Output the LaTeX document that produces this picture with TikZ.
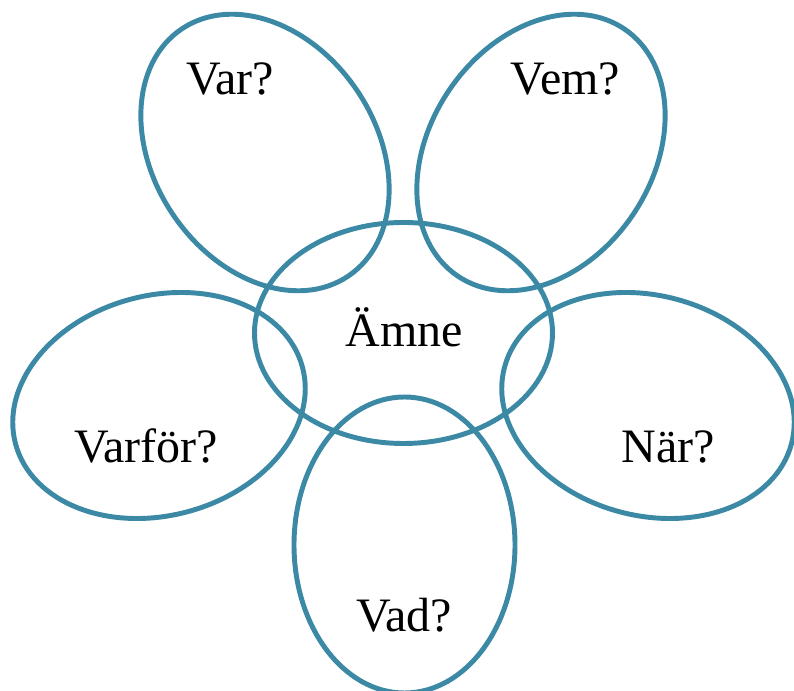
\documentclass[tikz,border=0pt]{standalone}
\usepackage{fontspec}
\setmainfont{Liberation Serif}
\definecolor{petalblue}{RGB}{59,137,164}
\tikzset{every picture/.style={line width=0.75pt}}
\tikzset{petal/.style={draw=petalblue, line width=3.7pt},
  petal text/.style={anchor=base, inner sep=0.75pt, font=\fontsize{36}{43}\selectfont}}

\begin{document}
\begin{tikzpicture}[x=0.75pt,y=0.75pt,yscale=-1,xscale=1]
    \useasboundingbox (0,0) rectangle (794,691);

    %Shape: Ellipse [id:dp7310264958] 
    \draw [petal]  (403.5,333) ellipse [x radius=149, y radius=110.5];
    %Shape: Ellipse [id:dp2081734461] 
    \draw [petal, rotate around={-34:(265,152.5)}]  (265,152.5) ellipse [x radius=111, y radius=149];
    %Shape: Ellipse [id:dp5520931847] 
    \draw [petal, rotate around={34:(541,152.5)}]  (541,152.5) ellipse [x radius=111, y radius=149];
    %Shape: Ellipse [id:dp9146203375] 
    \draw [petal, rotate around={-15:(159,405.5)}]  (159,405.5) ellipse [x radius=148.5, y radius=110];
    %Shape: Ellipse [id:dp3367529018] 
    \draw [petal, rotate around={15:(648,405.5)}]  (648,405.5) ellipse [x radius=148.5, y radius=110];
    %Shape: Ellipse [id:dp6694120853] 
    \draw [petal]  (404.5,545) ellipse [x radius=110.5, y radius=148];

    % Text Node
    \draw (404,347) node [petal text] (amne) {Ämne};
    % Text Node
    \draw (230,95) node [petal text] (var) {Var?};
    % Text Node
    \draw (565.5,95) node [petal text] (vem) {Vem?};
    % Text Node
    \draw (146,463) node [petal text] (varfor) {Varför?};
    % Text Node
    \draw (668,463) node [petal text] (nar) {När?};
    % Text Node
    \draw (404,632) node [petal text] (vad) {Vad?};

\end{tikzpicture}
\end{document}
